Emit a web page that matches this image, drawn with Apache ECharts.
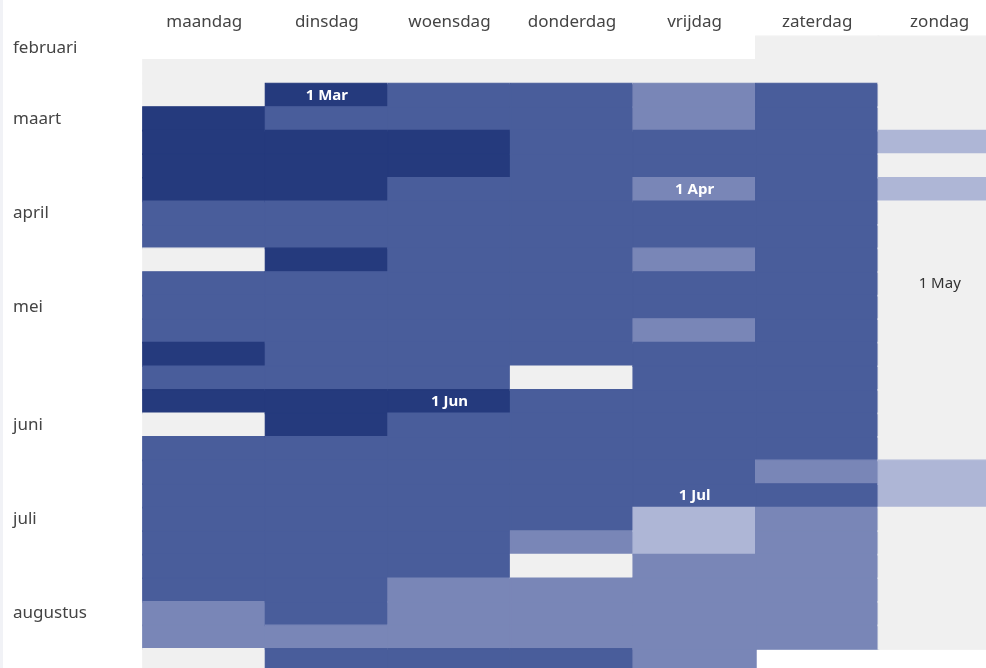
<!DOCTYPE html>
<html>
<head>
<meta charset="utf-8">
<title>Kalender</title>
<script src="https://cdn.jsdelivr.net/npm/echarts@6/dist/echarts.min.js"></script>
<style>
  html, body { margin: 0; padding: 0; background: #ffffff; overflow: hidden; width: 986px; height: 668px; }
  #chart { width: 1002px; height: 674px; }
</style>
</head>
<body>
<div id="chart"></div>
<script>
// Weekday columns (Monday first) and the week rows, starting on Monday 14 Feb 2022
const weekdays = ['maandag', 'dinsdag', 'woensdag', 'donderdag', 'vrijdag', 'zaterdag', 'zondag'];
const startYear = 2022, startMonth = 1, startDay = 14;
const weekCount = 27;

// Month names shown on the left, and the week row each one belongs to
const monthNames = ['februari', 'maart', 'april', 'mei', 'juni', 'juli', 'augustus'];
const monthRows = [0, 3, 7, 11, 16, 20, 24];

// Months whose first day carries a date label
const shortMonths = ['Jan', 'Feb', 'Mar', 'Apr', 'May', 'Jun', 'Jul', 'Aug', 'Sep', 'Oct', 'Nov', 'Dec'];
const labelledMonths = [2, 3, 4, 5, 6];

// Activity level per day, one list per weekday, one entry per week (null = no day)
const maandag   = [null, 0, 0, 4, 4, 4, 4, 3, 3, 0, 3, 3, 3, 4, 3, 4, 0, 3, 3, 3, 3, 3, 3, 3, 2, 2, 0];
const dinsdag   = [null, 0, 4, 3, 4, 4, 4, 3, 3, 4, 3, 3, 3, 3, 3, 4, 4, 3, 3, 3, 3, 3, 3, 3, 3, 2, 3];
const woensdag  = [null, 0, 3, 3, 4, 4, 3, 3, 3, 3, 3, 3, 3, 3, 3, 4, 3, 3, 3, 3, 3, 3, 3, 2, 2, 2, 3];
const donderdag = [null, 0, 3, 3, 3, 3, 3, 3, 3, 3, 3, 3, 3, 3, 0, 3, 3, 3, 3, 3, 3, 2, 0, 2, 2, 2, 3];
const vrijdag   = [null, 0, 2, 2, 3, 3, 2, 3, 3, 2, 3, 3, 2, 3, 3, 3, 3, 3, 3, 3, 1, 1, 2, 2, 2, 2, 2];
const zaterdag  = [0, 0, 3, 3, 3, 3, 3, 3, 3, 3, 3, 3, 3, 3, 3, 3, 3, 3, 2, 3, 2, 2, 2, 2, 2, 2, null];
const zondag    = [0, 0, 0, 0, 1, 0, 1, 0, 0, 0, 0, 0, 0, 0, 0, 0, 0, 0, 1, 1, 0, 0, 0, 0, 0, 0, null];

const columns = [maandag, dinsdag, woensdag, donderdag, vrijdag, zaterdag, zondag];

// Colour per activity level (0 = no activity)
const levelColors = ['#f0f0f0', '#aeb6d6', '#7986b7', '#495d9b', '#253a7d'];

const FONT = '"Noto Sans", sans-serif';

// Build heatmap cells; the first day of selected months gets a date label
const cells = [];
columns.forEach(function (col, c) {
  col.forEach(function (v, r) {
    if (v === null) return;
    const d = new Date(startYear, startMonth, startDay + r * 7 + c);
    const item = {
      value: [c, r, v],
      // same-colour outline closes the hairline seams between neighbouring cells
      itemStyle: { borderColor: levelColors[v], borderWidth: 1.2 }
    };
    if (d.getDate() === 1 && labelledMonths.indexOf(d.getMonth()) >= 0) {
      item.label = {
        show: true,
        formatter: '1 ' + shortMonths[d.getMonth()],
        color: v === 0 ? '#333333' : '#ffffff',
        fontWeight: v === 0 ? 'normal' : 'bold',
        fontSize: 15,
        fontFamily: FONT
      };
    }
    cells.push(item);
  });
});

const rowLabels = [];
for (let i = 0; i < weekCount; i++) {
  const k = monthRows.indexOf(i);
  rowLabels.push(k >= 0 ? monthNames[k] : '');
}

const chart = echarts.init(document.getElementById('chart'), null, { renderer: 'canvas' });
chart.setOption({
  animation: false,
  backgroundColor: '#ffffff',
  graphic: [{
    type: 'rect', left: 0, top: 0, silent: true,
    shape: { width: 3, height: 674 },
    style: { fill: '#f1f2f6' }
  }],
  grid: { left: 143, top: 36.4, width: 858, height: 636.1 },
  xAxis: {
    type: 'category',
    position: 'top',
    data: weekdays,
    axisLine: { show: false },
    axisTick: { show: false },
    splitLine: { show: false },
    axisLabel: { color: '#444444', fontSize: 17, fontFamily: FONT, margin: 6 }
  },
  yAxis: {
    type: 'category',
    inverse: true,
    data: rowLabels,
    axisLine: { show: false },
    axisTick: { show: false },
    splitLine: { show: false },
    axisLabel: {
      interval: 0, align: 'left', margin: 130,
      padding: [4, 0, 0, 0],
      color: '#444444', fontSize: 17, fontFamily: FONT
    }
  },
  visualMap: {
    type: 'piecewise',
    show: false,
    dimension: 2,
    pieces: levelColors.map(function (col, i) { return { value: i, color: col }; })
  },
  series: [{
    type: 'heatmap',
    data: cells,
    label: { show: false },
    emphasis: { disabled: true }
  }]
});
</script>
</body>
</html>
